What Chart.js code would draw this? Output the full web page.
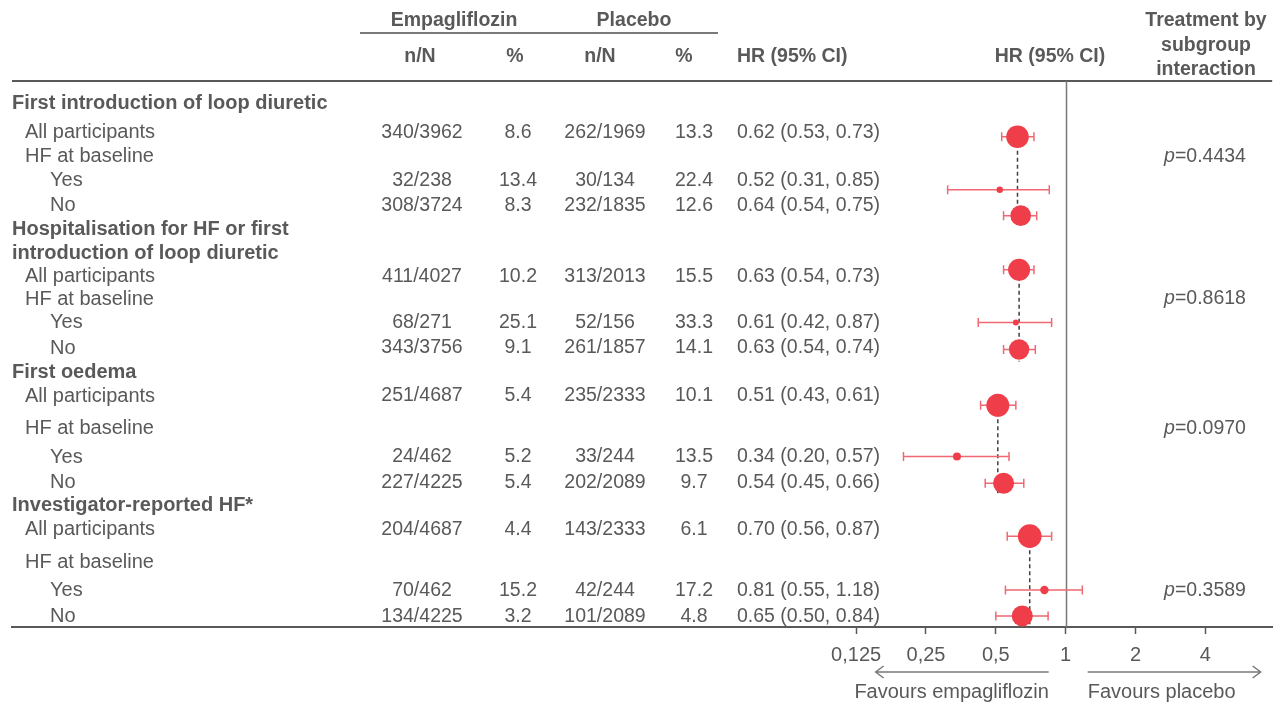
<!DOCTYPE html>
<html lang="en">
<head>
<meta charset="UTF-8" />
<title>Empagliflozin vs placebo – forest plot</title>
<style>
  body { margin: 0; background: #fff; }
  #wrap { width: 1284px; height: 704px; }
</style>
</head>
<body>
<div id="wrap"><canvas id="forest" width="1284" height="704"></canvas></div>
<script src="https://cdn.jsdelivr.net/npm/chart.js"></script>
<script>
  // left column labels
  const rowLabels = [
    'First introduction of loop diuretic', 'All participants', 'HF at baseline', 'Yes', 'No',
    'Hospitalisation for HF or first', 'introduction of loop diuretic', 'All participants', 'HF at baseline', 'Yes', 'No',
    'First oedema', 'All participants', 'HF at baseline', 'Yes', 'No',
    'Investigator-reported HF*', 'All participants', 'HF at baseline', 'Yes', 'No'
  ];
  const rowLevel = [0, 1, 1, 2, 2, 0, 0, 1, 1, 2, 2, 0, 1, 1, 2, 2, 0, 1, 1, 2, 2];

  // one entry per estimate
  const estRow = [1, 3, 4, 7, 9, 10, 12, 14, 15, 17, 19, 20];
  const empN = ['340/3962', '32/238', '308/3724', '411/4027', '68/271', '343/3756', '251/4687', '24/462', '227/4225', '204/4687', '70/462', '134/4225'];
  const empPct = ['8.6', '13.4', '8.3', '10.2', '25.1', '9.1', '5.4', '5.2', '5.4', '4.4', '15.2', '3.2'];
  const plaN = ['262/1969', '30/134', '232/1835', '313/2013', '52/156', '261/1857', '235/2333', '33/244', '202/2089', '143/2333', '42/244', '101/2089'];
  const plaPct = ['13.3', '22.4', '12.6', '15.5', '33.3', '14.1', '10.1', '13.5', '9.7', '6.1', '17.2', '4.8'];
  const hr = [0.62, 0.52, 0.64, 0.63, 0.61, 0.63, 0.51, 0.34, 0.54, 0.70, 0.81, 0.65];
  const ciLow = [0.53, 0.31, 0.54, 0.54, 0.42, 0.54, 0.43, 0.20, 0.45, 0.56, 0.55, 0.50];
  const ciHigh = [0.73, 0.85, 0.75, 0.73, 0.87, 0.74, 0.61, 0.57, 0.66, 0.87, 1.18, 0.84];

  // interaction p values, one per endpoint
  const pValues = ['0.4434', '0.8618', '0.0970', '0.3589'];
  const pRow = [2, 8, 13, 19];
  const groupEst = [[0, 1, 2], [3, 4, 5], [6, 7, 8], [9, 10, 11]];

  const xTicks = [0.125, 0.25, 0.5, 1, 2, 4];
  const xTickLabels = ['0,125', '0,25', '0,5', '1', '2', '4'];

  // layout: vertical slots (1 slot = 24px below the header rule)
  const rowSlot = [0.95, 2.15, 3.15, 4.15, 5.2, 6.2, 7.2, 8.15, 9.1, 10.1, 11.15,
                   12.15, 13.15, 14.52, 15.7, 16.78, 17.74, 18.74, 20.1, 21.28, 22.36];
  const markerSlot = [2.33, 4.54, 5.62, 7.88, 10.08, 11.21, 13.54, 15.67, 16.79, 19.0, 21.25, 22.33];
  const markerRadius = [11.3, 3.2, 10.3, 11, 3, 10.2, 11.5, 4, 10.5, 11.8, 4.2, 10.5];

  const TXT = '#595959';
  const RED = '#EF3E4A';
  const FONT = '"Liberation Sans", Arial, sans-serif';
  const LBL = '20px ' + FONT;
  const NUM = '19.5px ' + FONT;

  const forestPlugin = {
    id: 'forestTable',
    beforeDatasetsDraw(chart) {
      const { ctx, chartArea, scales: { x, y } } = chart;
      ctx.save();
      // header rule
      ctx.strokeStyle = TXT;
      ctx.lineWidth = 2;
      ctx.beginPath();
      ctx.moveTo(chartArea.left, chartArea.top);
      ctx.lineTo(chartArea.right, chartArea.top);
      ctx.stroke();
      // line of no effect
      ctx.strokeStyle = '#7a7a7a';
      ctx.lineWidth = 1.5;
      const x1 = Math.round(x.getPixelForValue(1)) + 0.5;
      ctx.beginPath();
      ctx.moveTo(x1, chartArea.top);
      ctx.lineTo(x1, chartArea.bottom);
      ctx.stroke();
      // dashed line through each overall estimate
      ctx.strokeStyle = '#404040';
      ctx.lineWidth = 1.5;
      ctx.setLineDash([4, 3]);
      groupEst.forEach(g => {
        const xp = x.getPixelForValue(hr[g[0]]);
        const yTop = y.getPixelForValue(markerSlot[g[0]]);
        const yBot = Math.min(y.getPixelForValue(markerSlot[g[g.length - 1]]) + 12, chartArea.bottom);
        ctx.beginPath();
        ctx.moveTo(xp, yTop);
        ctx.lineTo(xp, yBot);
        ctx.stroke();
      });
      ctx.setLineDash([]);
      // confidence intervals
      ctx.strokeStyle = '#F06872';
      ctx.lineWidth = 1.5;
      hr.forEach((v, i) => {
        const yp = y.getPixelForValue(markerSlot[i]);
        const a = x.getPixelForValue(ciLow[i]);
        const b = x.getPixelForValue(ciHigh[i]);
        ctx.beginPath();
        ctx.moveTo(a, yp); ctx.lineTo(b, yp);
        ctx.moveTo(a, yp - 4.5); ctx.lineTo(a, yp + 4.5);
        ctx.moveTo(b, yp - 4.5); ctx.lineTo(b, yp + 4.5);
        ctx.stroke();
      });
      ctx.restore();
    },
    afterDraw(chart) {
      const { ctx, scales: { x, y } } = chart;
      ctx.save();
      ctx.fillStyle = TXT;
      ctx.textBaseline = 'middle';

      // column headers
      ctx.font = 'bold ' + NUM;
      ctx.textAlign = 'center';
      ctx.fillText('Empagliflozin', 454, 21);
      ctx.fillText('Placebo', 634, 21);
      ctx.fillText('n/N', 420, 57);
      ctx.fillText('%', 515, 57);
      ctx.fillText('n/N', 600, 57);
      ctx.fillText('%', 684, 57);
      ctx.fillText('HR (95% CI)', 1050, 57);
      ctx.fillText('Treatment by', 1206, 21);
      ctx.fillText('subgroup', 1206, 46);
      ctx.fillText('interaction', 1206, 70);
      ctx.textAlign = 'left';
      ctx.fillText('HR (95% CI)', 737, 57);
      ctx.strokeStyle = '#7a7a7a';
      ctx.lineWidth = 2;
      ctx.beginPath();
      ctx.moveTo(360, 33);
      ctx.lineTo(718, 33);
      ctx.stroke();

      // row labels
      const indent = [12, 25, 50];
      rowLabels.forEach((t, i) => {
        ctx.font = (rowLevel[i] === 0 ? 'bold ' : '') + LBL;
        ctx.fillText(t, indent[rowLevel[i]], y.getPixelForValue(rowSlot[i]));
      });

      // numbers
      ctx.font = NUM;
      estRow.forEach((r, i) => {
        const yp = y.getPixelForValue(rowSlot[r]);
        ctx.textAlign = 'center';
        ctx.fillText(empN[i], 422, yp);
        ctx.fillText(empPct[i], 518, yp);
        ctx.fillText(plaN[i], 605, yp);
        ctx.fillText(plaPct[i], 694, yp);
        ctx.textAlign = 'left';
        ctx.fillText(hr[i].toFixed(2) + ' (' + ciLow[i].toFixed(2) + ', ' + ciHigh[i].toFixed(2) + ')', 737, yp);
      });

      // interaction p values
      pValues.forEach((p, i) => {
        const yp = y.getPixelForValue(rowSlot[pRow[i]]);
        ctx.font = 'italic ' + NUM;
        const w1 = ctx.measureText('p').width;
        ctx.font = NUM;
        const rest = '=' + p;
        const w2 = ctx.measureText(rest).width;
        const x0 = 1205 - (w1 + w2) / 2;
        ctx.textAlign = 'left';
        ctx.font = 'italic ' + NUM;
        ctx.fillText('p', x0, yp);
        ctx.font = NUM;
        ctx.fillText(rest, x0 + w1, yp);
      });

      // favours arrows
      const x1 = x.getPixelForValue(1);
      const ay = 672;
      ctx.strokeStyle = '#7a7a7a';
      ctx.lineWidth = 1.5;
      ctx.beginPath();
      ctx.moveTo(x1 - 17, ay); ctx.lineTo(x1 - 190, ay);
      ctx.moveTo(x1 - 182, ay - 6); ctx.lineTo(x1 - 190, ay); ctx.lineTo(x1 - 182, ay + 6);
      ctx.moveTo(x1 + 22, ay); ctx.lineTo(x1 + 195, ay);
      ctx.moveTo(x1 + 187, ay - 6); ctx.lineTo(x1 + 195, ay); ctx.lineTo(x1 + 187, ay + 6);
      ctx.stroke();
      ctx.font = LBL;
      ctx.textAlign = 'center';
      ctx.fillText('Favours empagliflozin', x1 - 114, 692);
      ctx.fillText('Favours placebo', x1 + 96, 692);
      ctx.restore();
    }
  };

  new Chart(document.getElementById('forest'), {
    type: 'scatter',
    data: {
      datasets: [{
        data: hr.map((v, i) => ({ x: v, y: markerSlot[i] })),
        pointRadius: markerRadius,
        pointHoverRadius: markerRadius,
        backgroundColor: RED,
        borderWidth: 0
      }]
    },
    options: {
      responsive: false,
      devicePixelRatio: 1,
      animation: false,
      layout: { padding: { left: 12, right: 9, top: 81, bottom: 28 } },
      plugins: { legend: { display: false }, tooltip: { enabled: false } },
      scales: {
        x: {
          type: 'logarithmic',
          min: Math.pow(2, -1056 / 70),
          max: Math.pow(2, 207 / 70),
          afterBuildTicks: s => { s.ticks = xTicks.map(v => ({ value: v })); },
          ticks: {
            autoSkip: false,
            maxRotation: 0,
            padding: 9,
            color: TXT,
            font: { family: FONT, size: 20 },
            callback: v => xTickLabels[xTicks.indexOf(v)]
          },
          grid: { drawOnChartArea: false, tickLength: 7, color: TXT, tickWidth: 1.5 },
          border: { color: TXT, width: 2 }
        },
        y: {
          display: false,
          reverse: true,
          min: 0,
          max: 547 / 24
        }
      }
    },
    plugins: [forestPlugin]
  });
</script>
</body>
</html>
